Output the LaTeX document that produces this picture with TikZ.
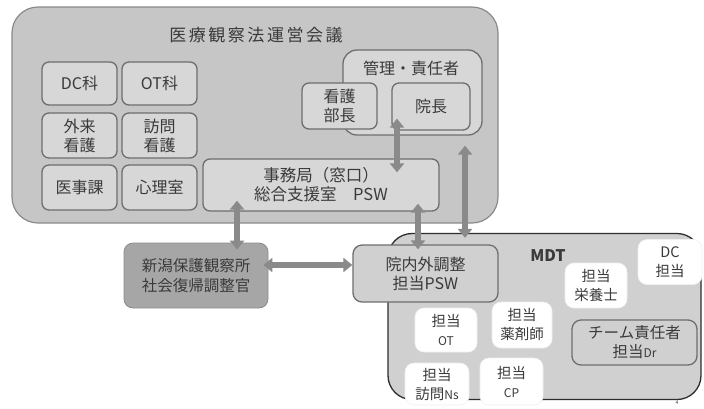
\documentclass[tikz,border=0pt]{standalone}
\usepackage{fontspec}
\setmainfont{Noto Sans CJK JP}
\newfontfamily\titlefont[LetterSpace=15]{Noto Sans CJK JP}
\usetikzlibrary{arrows.meta}
\definecolor{councilfill}{HTML}{C6C6C6}
\definecolor{councilline}{HTML}{8A8A8A}
\definecolor{cellfill}{HTML}{D7D7D7}
\definecolor{cellline}{HTML}{6E6E6E}
\definecolor{darkfill}{HTML}{A6A6A6}
\definecolor{mdtfill}{HTML}{D0D0D0}
\definecolor{mdtline}{HTML}{2E2E2E}
\definecolor{arrowgray}{HTML}{8A8A8A}
\definecolor{txt}{HTML}{3A3A3A}
\begin{document}
\begin{tikzpicture}[x=1pt,y=-1pt,
  council/.style={draw=councilline, fill=councilfill, line width=1.2pt, rounded corners=26pt, inner sep=0pt},
  cell/.style={draw=cellline, fill=cellfill, line width=1.3pt, rounded corners=7pt, inner sep=0pt, align=center, text=txt, font=\fontsize{16}{19}\selectfont},
  darkcell/.style={fill=darkfill, draw=darkfill!85!black, line width=0.8pt, rounded corners=9pt, inner sep=0pt, align=center, text=txt, font=\fontsize{15.5}{20}\selectfont},
  mdtbox/.style={draw=mdtline, fill=mdtfill, line width=1.3pt, rounded corners=24pt, inner sep=0pt},
  whitebox/.style={fill=white, draw=white!88!gray, line width=0.6pt, rounded corners=9pt, inner sep=0pt, align=center, text=txt, font=\fontsize{14.5}{19}\selectfont},
  lab/.style={inner sep=0pt, text=txt, align=center},
  dbl/.style={{Triangle[width=14pt,length=9pt]}-{Triangle[width=14pt,length=9pt]}, line width=6pt, draw=arrowgray}
]
\fill[white] (0,0) rectangle (704,408);
\useasboundingbox (0,0) rectangle (704,408);

% council
\node[council, minimum width=486pt, minimum height=216pt] (council) at (255,115) {};
\node[lab, font=\titlefont\fontsize{17}{19}\selectfont] (title) at (256,35) {医療観察法運営会議};

\node[cell, minimum width=75pt, minimum height=43pt] (dc) at (79.5,83.5) {DC科};
\node[cell, minimum width=75pt, minimum height=43pt] (ot) at (159.5,83.5) {OT科};
\node[cell, minimum width=75pt, minimum height=45pt] (gairai) at (79.5,135.5) {外来\\看護};
\node[cell, minimum width=75pt, minimum height=45pt] (houmon) at (159.5,135.5) {訪問\\看護};
\node[cell, minimum width=75pt, minimum height=45pt] (iji) at (79.5,187.5) {医事課};
\node[cell, minimum width=75pt, minimum height=45pt] (shinri) at (159.5,187.5) {心理室};
\node[cell, minimum width=236pt, minimum height=52pt, font=\fontsize{16.5}{19}\selectfont] (jimu) at (321,185) {事務局（窓口）\\総合支援室\hspace{1em}PSW};

\node[cell, minimum width=139pt, minimum height=85pt, rounded corners=14pt] (kanri) at (412.5,92.5) {};
\node[lab, font=\fontsize{16}{19}\selectfont] (kanrilab) at (411,68) {管理・責任者};
\node[cell, minimum width=75pt, minimum height=46pt] (kango) at (339.5,106) {看護\\部長};
\node[cell, minimum width=78pt, minimum height=47pt] (incho) at (431,106.5) {院長};

% outside
\node[darkcell, minimum width=144pt, minimum height=65pt] (niigata) at (196,275.5) {新潟保護観察所\\社会復帰調整官};

% MDT
\node[mdtbox, minimum width=313pt, minimum height=166pt] (mdt) at (544.5,316.5) {};
\node[lab, font=\fontsize{16}{19}\selectfont\bfseries] (mdtlab) at (548,256) {MDT};
\node[cell, minimum width=145pt, minimum height=57pt, rounded corners=9pt, fill=mdtfill] (innai) at (425.5,273.5) {院内外調整\\担当PSW};

\node[whitebox, minimum width=64pt, minimum height=45pt] (dctanto) at (670,262) {DC\\担当};
\node[whitebox, minimum width=62pt, minimum height=45pt] (eiyou) at (596,285.5) {担当\\栄養士};
\node[whitebox, minimum width=62pt, minimum height=44pt] (ot2) at (446,330) {担当\\{\fontsize{12}{19}\selectfont OT}};
\node[whitebox, minimum width=60pt, minimum height=46pt] (yaku) at (522,325) {担当\\薬剤師};
\node[cell, minimum width=125pt, minimum height=45pt, fill=mdtfill, rounded corners=9pt, font=\fontsize{15.5}{19}\selectfont] (team) at (634.5,342.5) {チーム責任者\\担当{\fontsize{12}{19}\selectfont Dr}};
\node[whitebox, minimum width=64pt, minimum height=42pt] (ns) at (437,384) {担当\\訪問{\fontsize{12}{19}\selectfont Ns}};
\node[whitebox, minimum width=63pt, minimum height=47pt] (cp) at (511.5,381.5) {担当\\{\fontsize{12}{19}\selectfont CP}};

\node[lab, font=\fontsize{5}{6}\selectfont] (pageno) at (677,403) {4};

% arrows
\draw[dbl, shorten <=-7pt, shorten >=-11pt] ([xshift=41pt]niigata.north) -- ([xshift=-84pt]jimu.south);
\draw[dbl, shorten <=-5pt] ([yshift=10.5pt]niigata.east) -- ([yshift=8.5pt]innai.west);
\draw[dbl, shorten <=-5pt, shorten >=-8pt] ([xshift=-7.5pt]innai.north) -- ([xshift=97pt]jimu.south);
\draw[dbl, shorten <=-5pt, shorten >=10pt] ([xshift=-79.5pt]mdt.north) -- ([xshift=52.5pt]kanri.south);
\draw[dbl, shorten <=-12pt, shorten >=-14pt] ([xshift=-34pt]incho.south) -- ([xshift=76pt]jimu.north);
\end{tikzpicture}
\end{document}
